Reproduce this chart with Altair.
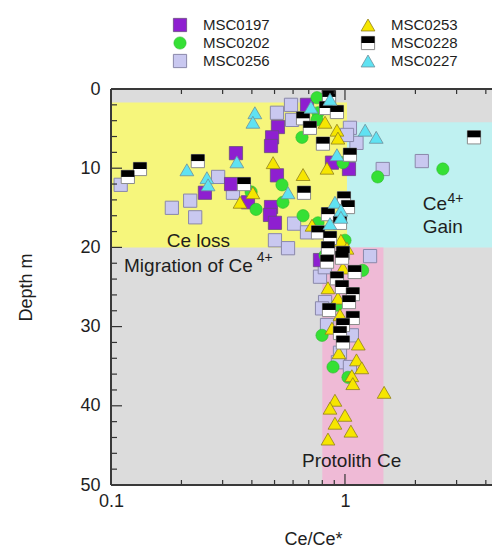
import altair as alt
import pandas as pd

# ---------------- data ----------------
msc0197_x = [0.252, 0.342, 0.326, 0.385, 0.688, 0.517, 0.488, 0.483, 0.880, 0.512, 1.04, 0.483, 0.478, 0.502, 0.782]
msc0197_d = [13.1, 8.1, 12.0, 14.3, 2.0, 4.8, 6.1, 7.2, 9.3, 10.9, 10.1, 14.9, 15.9, 16.9, 21.6]

msc0202_x = [0.397, 0.417, 0.759, 0.767, 0.655, 0.759, 0.98, 0.538, 0.543, 0.662, 0.767, 1.0, 1.19, 1.38, 2.62, 0.822, 0.924, 0.798, 0.889, 1.03]
msc0202_d = [13.0, 15.2, 1.1, 3.0, 6.1, 3.9, 9.3, 12.1, 14.3, 16.0, 16.9, 19.1, 22.9, 11.1, 10.1, 21.0, 27.3, 31.1, 35.1, 36.4]

msc0256_x = [0.110, 0.287, 0.182, 0.218, 0.229, 0.332, 0.512, 0.588, 0.594, 1.05, 1.12, 0.606, 0.688, 0.502, 0.571, 1.45, 2.13, 1.28, 0.782, 0.822, 0.798, 0.838, 1.07, 0.952, 0.933, 1.05, 1.02, 0.82]
msc0256_d = [12.1, 11.1, 15.0, 14.1, 16.2, 13.1, 3.0, 2.0, 3.9, 4.9, 6.8, 17.0, 18.1, 19.1, 20.1, 10.1, 9.1, 21.1, 23.7, 26.9, 27.7, 29.8, 31.1, 33.3, 34.5, 35.1, 5.8, 22.5]

msc0253_x = [0.404, 0.356, 0.822, 0.924, 0.933, 0.493, 0.662, 0.838, 0.723, 0.961, 1.02, 0.98, 0.846, 0.933, 0.952, 0.880, 1.14, 0.942, 1.12, 1.18, 1.07, 1.08, 1.47, 0.906, 0.863, 1.0, 0.906, 1.06, 0.846]
msc0253_d = [13.1, 14.3, 4.2, 5.2, 6.2, 9.3, 10.8, 10.0, 17.2, 19.1, 20.1, 22.6, 25.1, 26.4, 28.5, 30.2, 32.2, 33.3, 34.2, 35.2, 36.2, 37.2, 38.3, 39.3, 40.3, 41.2, 42.2, 43.2, 44.2]

msc0228_x = [0.118, 0.133, 0.235, 0.370, 0.855, 0.830, 0.924, 0.662, 0.708, 0.805, 1.05, 0.668, 0.99, 1.03, 0.846, 0.952, 0.767, 0.863, 0.846, 0.980, 0.838, 0.971, 1.10, 0.924, 0.971, 1.08, 1.04, 0.855, 1.08, 0.980, 0.952, 0.980, 3.56]
msc0228_d = [11.1, 10.1, 9.1, 12.0, 1.0, 2.4, 2.9, 3.7, 4.9, 6.9, 8.3, 13.1, 13.8, 14.9, 15.8, 16.9, 18.1, 18.8, 20.1, 20.7, 21.8, 21.3, 23.1, 23.9, 25.0, 25.9, 26.9, 27.9, 28.9, 29.8, 30.8, 32.0, 6.1]

msc0227_x = [0.211, 0.257, 0.26, 0.345, 0.412, 0.404, 0.716, 0.863, 0.924, 0.571, 0.906, 0.961, 0.961, 0.863, 1.22, 1.36]
msc0227_d = [10.2, 11.2, 12.1, 9.2, 3.0, 4.2, 2.3, 1.3, 8.3, 13.1, 14.3, 15.3, 16.2, 17.0, 5.2, 6.1]

# shaded zones (the plot is cut off on the right, as in the reference)
X_MAX = 4.25
zone_names = ["Ce loss", "Ce gain", "Protolith"]
zone_x1 = [0.1, 1.02, 0.80]
zone_x2 = [1.02, X_MAX, 1.46]
zone_d1 = [1.7, 4.2, 20.0]
zone_d2 = [20.0, 20.0, 50.0]
zone_colors = ["#f6f67c", "#bff1f1", "#efbad6"]

# annotations
ann_text = ["Ce loss", "Migration of Ce", "Ce", "Gain", "Protolith Ce"]
ann_x = [0.173, 0.1137, 2.15, 2.15, 0.655]
ann_d = [19.9, 23.1, 15.3, 18.2, 47.7]
sup_text = ["4+", "4+"]
sup_x = [0.42, 2.74]
sup_d = [21.8, 14.4]

# legend layout (column, row)
legend_names = ["MSC0197", "MSC0202", "MSC0256", "MSC0253", "MSC0228", "MSC0227"]
legend_col = [0, 0, 0, 1, 1, 1]
legend_row = [0, 1, 2, 0, 1, 2]

# ticks
y_ticks = list(range(0, 51, 2))
x_ticks = [0.1, 0.2, 0.3, 0.4, 0.5, 0.6, 0.7, 0.8, 0.9, 1.0, 2.0, 3.0, 4.0]
x_major = [0.1, 1.0]

# ---------------- chart ----------------
W, H = 381, 396
FONT = "Liberation Sans"
TXT = "#1e1e1e"

xs = alt.Scale(type="log", domain=[0.1, X_MAX], nice=False)
ys = alt.Scale(domain=[0, 50], reverse=True, nice=False)
xax = alt.Axis(values=[0.1, 1], format="~g", ticks=False, tickSize=0, domain=False, grid=False,
               labelPadding=7, labelFlush=False, title="Ce/Ce*", titlePadding=20, titleX=202)
yax = alt.Axis(values=[0, 10, 20, 30, 40, 50], ticks=False, tickSize=0, domain=False, grid=False,
               labelPadding=11, title="Depth m", titlePadding=44)


def X(f):
    return alt.X(f"{f}:Q", scale=xs, axis=xax)


def Y(f):
    return alt.Y(f"{f}:Q", scale=ys, axis=yax)


zones = pd.DataFrame({"zone": zone_names, "x1": zone_x1, "x2": zone_x2, "d1": zone_d1, "d2": zone_d2})
zone_layer = alt.Chart(zones).mark_rect().encode(
    x=X("x1"), x2="x2", y=Y("d1"), y2="d2",
    color=alt.Color("zone:N", scale=alt.Scale(domain=zone_names, range=zone_colors), legend=None),
)

ann = pd.DataFrame({"t": ann_text, "x": ann_x, "d": ann_d})
ann_layer = alt.Chart(ann).mark_text(align="left", baseline="alphabetic", fontSize=19, font=FONT, color=TXT).encode(
    x=X("x"), y=Y("d"), text="t:N")
sup = pd.DataFrame({"t": sup_text, "x": sup_x, "d": sup_d})
sup_layer = alt.Chart(sup).mark_text(align="left", baseline="alphabetic", fontSize=14, font=FONT, color=TXT).encode(
    x=X("x"), y=Y("d"), text="t:N")

SQ = 175
HALF = "M-1,-1H1V0H-1Z"
styles = {
    "MSC0256": [dict(shape="square", filled=True, fill="#c9c8f0", stroke="#8a88aa", strokeWidth=1, size=SQ, opacity=1)],
    "MSC0197": [dict(shape="square", filled=True, fill="#8e1fd0", stroke="#6a4a80", strokeWidth=0.8, size=SQ, opacity=1)],
    "MSC0202": [dict(shape="circle", filled=True, fill="#35e035", stroke="#2cb82c", strokeWidth=0.6, size=150, opacity=1)],
    "MSC0253": [dict(shape="triangle-up", filled=True, fill="#f6e600", stroke="#8f7f1e", strokeWidth=0.8, size=190, opacity=1)],
    "MSC0228": [dict(shape="square", filled=True, fill="#ffffff", stroke="#8c8c8c", strokeWidth=1, size=SQ, opacity=1),
                dict(shape=HALF, filled=True, fill="#000000", strokeWidth=0, size=SQ, opacity=1)],
    "MSC0227": [dict(shape="triangle-up", filled=True, fill="#5fe2f2", stroke="#6f8f9a", strokeWidth=0.8, size=190, opacity=1)],
}
series = {
    "MSC0197": (msc0197_x, msc0197_d),
    "MSC0202": (msc0202_x, msc0202_d),
    "MSC0256": (msc0256_x, msc0256_d),
    "MSC0253": (msc0253_x, msc0253_d),
    "MSC0228": (msc0228_x, msc0228_d),
    "MSC0227": (msc0227_x, msc0227_d),
}
draw_order = ["MSC0256", "MSC0197", "MSC0202", "MSC0253", "MSC0228", "MSC0227"]

point_layers = []
for name in draw_order:
    sx, sd = series[name]
    df = pd.DataFrame({"x": sx, "d": sd})
    for st in styles[name]:
        point_layers.append(alt.Chart(df).mark_point(**st).encode(x=X("x"), y=Y("d")))

# tick marks pointing inwards (left, top, bottom; right side is cut off)
yt = pd.DataFrame({"d": y_ticks, "major": [v % 10 == 0 for v in y_ticks]})
xt = pd.DataFrame({"x": x_ticks, "major": [v in x_major for v in x_ticks]})
TC = "#333333"
tick_layers = []
for is_major, ln in [(True, 11), (False, 6)]:
    flt = alt.datum.major if is_major else ~alt.datum.major
    base_y = alt.Chart(yt).transform_filter(flt).mark_rule(color=TC, strokeWidth=1.2)
    tick_layers.append(base_y.encode(y=Y("d"), x=alt.value(0), x2=alt.value(ln)))
    base_x = alt.Chart(xt).transform_filter(flt).mark_rule(color=TC, strokeWidth=1.2)
    lx = ln if is_major else 5
    tick_layers.append(base_x.encode(x=X("x"), y=alt.value(H), y2=alt.value(H - lx)))
    tick_layers.append(base_x.encode(x=X("x"), y=alt.value(0), y2=alt.value(lx)))

# frame lines (left, top, bottom)
BC = "#3a3a3a"
frame_layers = [
    alt.Chart(yt).mark_rule(color=BC, strokeWidth=1.5).encode(x=alt.value(0), y=alt.value(0), y2=alt.value(H)),
    alt.Chart(yt).mark_rule(color=BC, strokeWidth=1.5).encode(x=alt.value(0), x2=alt.value(W), y=alt.value(0)),
    alt.Chart(yt).mark_rule(color=BC, strokeWidth=1.5).encode(x=alt.value(0), x2=alt.value(W), y=alt.value(H)),
]

main = alt.layer(zone_layer, ann_layer, sup_layer, *point_layers, *tick_layers, *frame_layers)

# manual legend above the plot (own scales)
leg = pd.DataFrame({"name": legend_names, "col": legend_col, "row": legend_row})
lxs = alt.Scale(domain=[0, 1], range=[69, 257])
lys = alt.Scale(domain=[0, 2], range=[-64, -28])
leg_layers = []
for name in legend_names:
    for st in styles[name]:
        leg_layers.append(alt.Chart(leg).transform_filter(alt.datum.name == name).mark_point(**st).encode(
            x=alt.X("col:Q", scale=lxs, axis=None), y=alt.Y("row:Q", scale=lys, axis=None)))
leg_layers.append(alt.Chart(leg).mark_text(align="left", baseline="middle", dx=23, fontSize=15, font=FONT, color=TXT).encode(
    x=alt.X("col:Q", scale=lxs, axis=None), y=alt.Y("row:Q", scale=lys, axis=None), text="name:N"))
legend = alt.layer(*leg_layers)

chart = alt.layer(main, legend).resolve_scale(x="independent", y="independent").properties(
    width=W, height=H,
    autosize=alt.AutoSizeParams(type="none"),
    padding={"left": 103, "top": 81, "right": 0, "bottom": 62},
).configure(font=FONT).configure_view(
    fill="#dcdcdc", stroke=None
).configure_axis(
    labelFontSize=18, titleFontSize=18, labelColor=TXT, titleColor=TXT, titleFontWeight="normal",
    labelFont=FONT, titleFont=FONT
)

chart.save("out.html", embed_options={"renderer": "svg", "actions": False})
